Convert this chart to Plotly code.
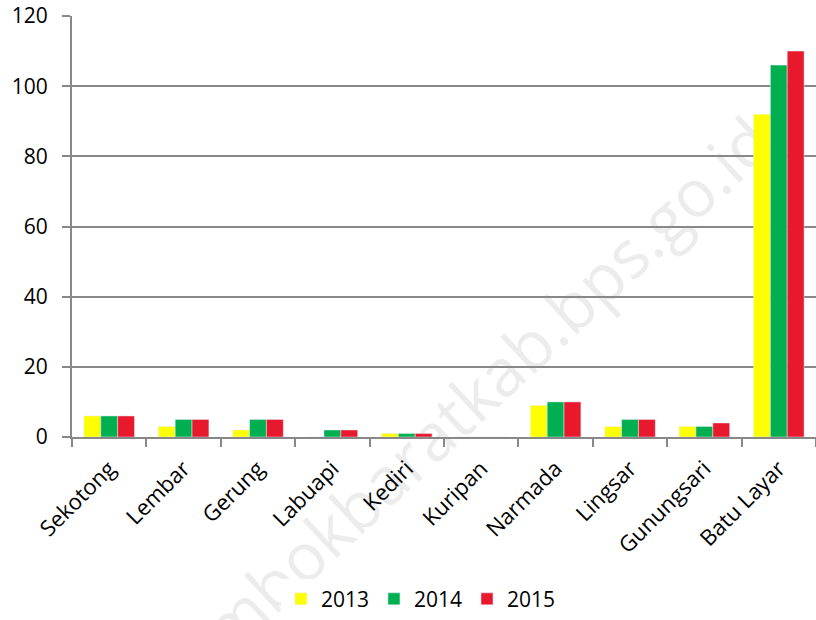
import plotly.graph_objects as go

kecamatan = ['Sekotong', 'Lembar', 'Gerung', 'Labuapi', 'Kediri', 'Kuripan',
             'Narmada', 'Lingsar', 'Gunungsari', 'Batu Layar']
y2013 = [6, 3, 2, 0, 1, 0, 9, 3, 3, 92]
y2014 = [6, 5, 5, 2, 1, 0, 10, 5, 3, 106]
y2015 = [6, 5, 5, 2, 1, 0, 10, 5, 4, 110]

fig = go.Figure()
fig.add_trace(go.Bar(x=kecamatan, y=y2013, name='2013', marker_color='#FFFF00'))
fig.add_trace(go.Bar(x=kecamatan, y=y2014, name='2014', marker_color='#00B050'))
fig.add_trace(go.Bar(x=kecamatan, y=y2015, name='2015', marker_color='#E8192C'))

# watermark behind the bars
fig.add_shape(type='line', xref='paper', yref='paper', x0=0.174, y0=-0.658, x1=0.974, y1=0.632,
              line=dict(color='rgba(0,0,0,0)', width=0), layer='below',
              label=dict(text='lombokbaratkab.bps.go.id', textangle=-43,
                         textposition='middle',
                         font=dict(size=66, color='#ececec', family='Open Sans')))

fig.update_layout(
    width=816, height=620,
    margin=dict(l=72, r=0, t=16, b=183),
    plot_bgcolor='white', paper_bgcolor='white',
    barmode='group', bargap=0.32, bargroupgap=0,
    font=dict(family='Open Sans', size=21, color='black'),
    showlegend=True,
    legend=dict(orientation='h', x=0.469, xanchor='center', y=-0.434, yanchor='bottom',
                font=dict(size=21), itemwidth=30),
    xaxis=dict(showline=True, linecolor='#888888', linewidth=2, ticks='outside',
               tickson='boundaries', tickcolor='#888888', tickwidth=2, ticklen=8,
               tickangle=-45, tickfont=dict(size=22), automargin=False,
               ticklabelstandoff=8),
    yaxis=dict(range=[0, 120], dtick=20, showline=True, linecolor='#888888', linewidth=2,
               gridcolor='#888888', gridwidth=1.5, ticks='outside', tickcolor='#888888',
               tickwidth=2, ticklen=8, tickfont=dict(size=21), zeroline=False,
               ticklabelstandoff=10, automargin=False),
)

# page has no body margin so the chart sits at the window's corner
fig.write_html('out.html', config={'displayModeBar': False},
               post_script="document.body.style.margin='0';")
